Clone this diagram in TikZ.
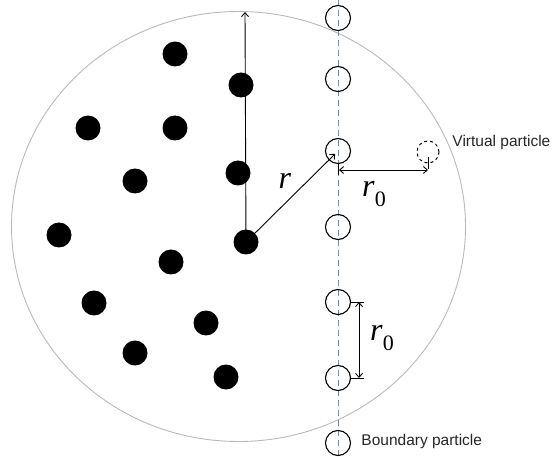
\documentclass[tikz,border=0pt]{standalone}
\usepackage{fontspec}
\setmainfont{Liberation Serif}
\newfontfamily\labelfont{Liberation Sans}
\usetikzlibrary{arrows.meta}
\definecolor{domaingray}{RGB}{185,185,185}
\definecolor{axisblue}{RGB}{110,140,160}
\newcommand{\rsym}[1]{\textit{r}\raisebox{-0.3em}{\fontsize{22}{24}\selectfont #1}}
\tikzset {
  >={Straight Barb[length=4pt,width=7pt]},
  fluid/.style={circle,fill=black,minimum size=25pt,inner sep=0pt},
  wall/.style={circle,draw,minimum size=25pt,inner sep=0pt,line width=1.1pt},
  ghost/.style={circle,draw,dashed,minimum size=22pt,inner sep=0pt,line width=1pt},
  sym/.style={font=\fontsize{32}{34}\selectfont},
  tag/.style={font=\labelfont\fontsize{15.5}{18}\selectfont,text=black!85,inner sep=1pt},
}

\begin{document}
\begin{tikzpicture}[x=1pt,y=-1pt,line width=0.9pt]
          \useasboundingbox (0,0) rectangle (552,457);
          \draw[domaingray] (238.5,226.5) ellipse [x radius=227, y radius=215];
          \draw[axisblue,dash pattern=on 6pt off 4pt,line width=0.7pt] (338,0) -- (338,457);

          % fluid particles
          \foreach \x/\y [count=\k] in {175/54,241/85,88/128,175/128,135/181,238/173,
                                        59/235,171/262,94/303,206/323,135/353,226/377}
            \node[fluid] (p\k) at (\x,\y) {};
          \node[fluid] (i) at (246,242) {};
          \coordinate (top) at (245,12);
          \draw[->] (i.center) -- (top);

          % boundary particles
          \foreach \y [count=\k] in {18,79,151,227,302,378,443}
            \node[wall] (b\k) at (338,\y) {};
          \node[ghost] (v) at (428,152) {};

          \draw[->,shorten >=4pt] (i.center) -- (b3.center);
          \node[sym] (r) at (285,181) {\textit{r}};

          \draw (b3.south) -- ++(0,11);
          \draw ([yshift=6pt]v.south) -- ++(0,12);
          \coordinate (h1) at (339,170);
          \coordinate (h2) at (428,170);
          \draw[<->] (h1) -- (h2);
          \node[sym] (r0a) at (374,194) {\rsym{0}};

          \draw (b5.east) -- ++(13,0);
          \draw (b6.east) -- ++(13,0);
          \draw[<->] ([xshift=8pt]b5.east) -- ([xshift=8pt]b6.east);
          \node[sym] (r0b) at (382,338) {\rsym{0}};

          \node[tag,anchor=west] (vlab) at (451,142) {Virtual particle};
          \node[tag,anchor=west] (blab) at (360,441) {Boundary particle};
        \end{tikzpicture}
\end{document}
